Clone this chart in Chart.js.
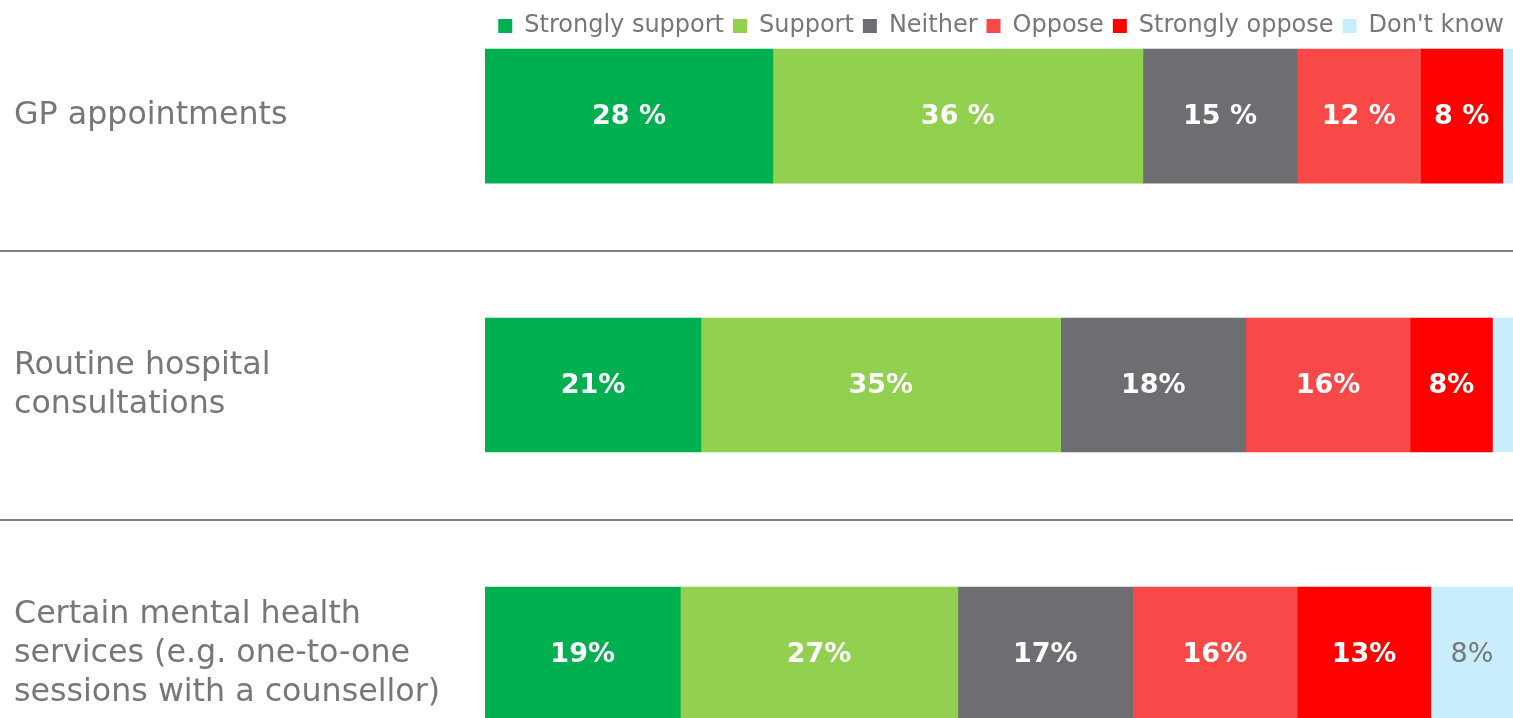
<!DOCTYPE html>
<html>
<head>
<meta charset="utf-8">
<script src="https://cdn.jsdelivr.net/npm/chart.js@4/dist/chart.umd.min.js"></script>
<style>
  body { margin: 0; background: #fff; overflow: hidden; }
</style>
</head>
<body>
<canvas id="apoio" width="1513" height="718"></canvas>
<script>
var categorias = [
  ['GP appointments'],
  ['Routine hospital', 'consultations'],
  ['Certain mental health', 'services (e.g. one-to-one', 'sessions with a counsellor)']
];
var respostas = ['Strongly support', 'Support', 'Neither', 'Oppose', 'Strongly oppose', "Don't know"];
var stronglySupport = [28, 21, 19];
var support = [36, 35, 27];
var neither = [15, 18, 17];
var oppose = [12, 16, 16];
var stronglyOppose = [8, 8, 13];
var dontKnow = [1, 2, 8];
var sufixo = [' %', '%', '%'];

var series = [stronglySupport, support, neither, oppose, stronglyOppose, dontKnow];
var cores = ['#00b050', '#92d050', '#6d6e71', '#f94848', '#ff0000', '#c8eefc'];
var corTexto = '#76777a';

// separators between the rows, full width
var separadores = {
  id: 'separadores',
  afterDraw: function(chart) {
    var y = chart.scales.y;
    var ctx = chart.ctx;
    ctx.save();
    ctx.strokeStyle = '#7f7f7f';
    ctx.lineWidth = 2;
    for (let i = 0; i < categorias.length - 1; i++) {
      var py = Math.round(y.getPixelForValue(i + 0.5));
      ctx.beginPath();
      ctx.moveTo(0, py);
      ctx.lineTo(chart.width, py);
      ctx.stroke();
    }
    ctx.restore();
  }
};

// value labels inside the bars
var rotulos = {
  id: 'rotulos',
  afterDatasetsDraw: function(chart) {
    var ctx = chart.ctx;
    ctx.save();
    ctx.textAlign = 'center';
    ctx.textBaseline = 'middle';
    chart.data.datasets.forEach(function(ds, d) {
      var meta = chart.getDatasetMeta(d);
      meta.data.forEach(function(bar, i) {
        var v = ds.data[i].x;
        if (v < 3) return;
        var ultimo = d === chart.data.datasets.length - 1;
        ctx.fillStyle = ultimo ? corTexto : '#ffffff';
        ctx.font = (ultimo ? '' : 'bold ') + '27px "DejaVu Sans"';
        var cx = (bar.x + bar.base) / 2;
        ctx.fillText(v + sufixo[i], cx, bar.y + 1);
      });
    });
    ctx.restore();
  }
};

new Chart(document.getElementById('apoio'), {
  type: 'bar',
  data: {
    datasets: respostas.map(function(r, d) {
      return {
        label: r,
        data: series[d].map(function(v, i) { return { x: v, y: i }; }),
        backgroundColor: cores[d],
        borderWidth: 0,
        barThickness: 134
      };
    })
  },
  options: {
    responsive: false,
    animation: false,
    indexAxis: 'y',
    layout: { padding: { left: 14, right: 0, top: 5, bottom: 0 } },
    plugins: {
      legend: {
        position: 'top',
        align: 'end',
        labels: {
          boxWidth: 14,
          boxHeight: 14,
          padding: 9,
          color: corTexto,
          font: { family: 'DejaVu Sans', size: 24 }
        }
      },
      tooltip: { enabled: false }
    },
    scales: {
      x: {
        stacked: true,
        display: false,
        min: 0,
        max: 100
      },
      y: {
        type: 'linear',
        stacked: true,
        reverse: true,
        offset: false,
        min: -0.253,
        max: 2.238,
        grid: { display: false, offset: false },
        border: { display: false },
        afterFit: function(scale) {
          scale.width = 471;
          scale.paddingTop = 0;
          scale.paddingBottom = 0;
        },
        ticks: {
          stepSize: 1,
          includeBounds: false,
          crossAlign: 'far',
          color: corTexto,
          font: { family: 'DejaVu Sans', size: 31.7, lineHeight: 1.23 },
          callback: function(v) {
            return Number.isInteger(v) ? categorias[v] : '';
          }
        }
      }
    }
  },
  plugins: [separadores, rotulos]
});
</script>
</body>
</html>
